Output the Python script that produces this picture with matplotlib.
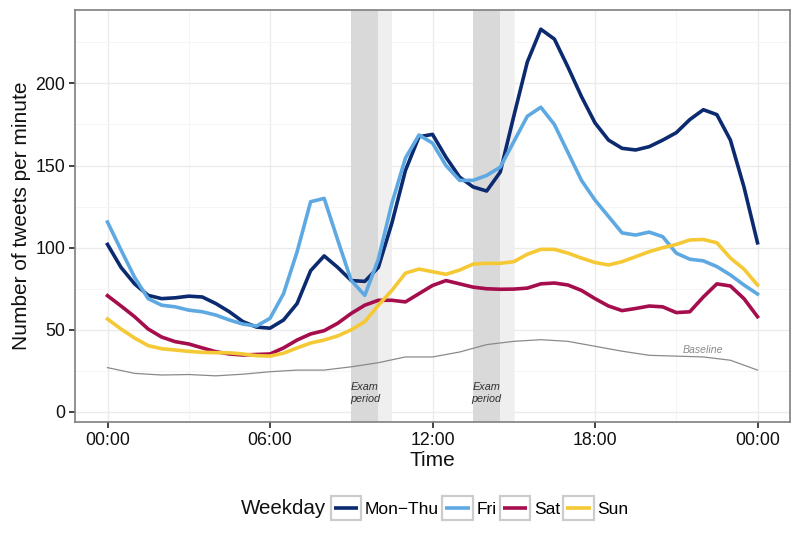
import matplotlib
matplotlib.use("Agg")
import matplotlib.pyplot as plt
import numpy as np
from matplotlib.legend_handler import HandlerBase
from matplotlib.patches import Rectangle
from matplotlib.lines import Line2D

plt.rcParams['font.family'] = ['Liberation Sans', 'DejaVu Sans']

# half-hour steps, 00:00 .. 24:00
hours = np.arange(0, 24.5, 0.5)

mon_thu = [102, 88, 78, 71, 69, 69.5, 70.5, 70, 66, 61, 55, 51.7, 51, 56, 66, 86,
           95, 88, 80, 79.5, 88, 115, 147, 167.5, 169, 155, 143, 137, 134.5, 146,
           180, 213, 233, 227, 210, 192, 176, 165.5, 160.5, 159.5, 161.5, 165.5,
           170, 178, 184, 181, 165.5, 137, 103]
fri = [115.6, 98.6, 82, 69, 65, 64, 62, 61, 59, 56, 53.5, 52.3, 57, 72, 97.5, 128,
       130, 104.7, 80, 71, 93, 127, 154.5, 168.6, 163.7, 150, 141, 141, 144, 149,
       164.5, 180, 185.5, 175, 158, 141, 129, 119, 109, 107.7, 109.5, 106.7,
       96.7, 93, 92, 88.5, 83.4, 77.3, 71.8]
sat = [70.8, 64.5, 58, 50.5, 45.6, 42.8, 41.4, 39, 36.7, 35.3, 34.7, 35, 35.3, 39,
       43.8, 47.5, 49.5, 54, 60, 65, 68, 68, 67, 72, 77, 80, 78, 76, 75, 74.7,
       74.8, 75.4, 78, 78.5, 77.3, 74, 69, 64.5, 61.7, 63, 64.5, 64, 60.5, 61,
       70, 78, 76.7, 69, 58]
sun = [56.6, 50.5, 45, 40.4, 38.5, 37.7, 36.9, 36.3, 36.1, 36, 35.3, 34.3, 34,
       35.8, 39, 42, 43.8, 46.3, 50, 55, 65, 74, 84.5, 87, 85.4, 83.8, 86.4, 90,
       90.5, 90.5, 91.5, 96, 99, 99, 96.7, 93.7, 91, 89.5, 91.5, 94.5, 97.6, 100,
       102, 104.7, 105, 103, 93.7, 87, 77.3]

# baseline, hourly
base_hours = np.arange(0, 25, 1)
baseline = [27, 23.5, 22.5, 22.8, 22, 23, 24.5, 25.5, 25.5, 27.5, 30, 33.5, 33.5,
            36.5, 41, 43, 44, 43, 40, 37, 34.5, 34, 33.5, 31.5, 25.5]

series_names = ['Mon\u2212Thu', 'Fri', 'Sat', 'Sun']
series_colors = ['#0b2a70', '#5fa9e2', '#a50d4c', '#f5c936']

# exam periods (start, end of dark part, end of light part)
exams = [(9.0, 10.0, 10.5), (13.5, 14.5, 15.0)]

xticks = [0, 6, 12, 18, 24]
xticklabels = ['00:00', '06:00', '12:00', '18:00', '00:00']
yticks = [0, 50, 100, 150, 200]


class KeyBox(HandlerBase):
    def create_artists(self, legend, orig, xd, yd, w, h, fs, trans):
        box = Rectangle((-xd, -yd), w, h, facecolor='white', edgecolor='#cccccc',
                        lw=1.6, transform=trans)
        ln = Line2D([-xd + 0.1 * w, -xd + 0.9 * w], [-yd + h / 2] * 2,
                    color=orig.get_color(), lw=orig.get_linewidth(),
                    solid_capstyle='butt', transform=trans)
        return [box, ln]


fig = plt.figure(figsize=(8, 5.54), dpi=100)
ax = fig.add_axes([75 / 800, 1 - 422 / 554, 715 / 800, 412 / 554])

for s, e_dark, e_light in exams:
    ax.axvspan(s, e_dark, color='#d9d9d9', lw=0, zorder=1)
    ax.axvspan(e_dark, e_light, color='#efefef', lw=0, zorder=1)
    ax.text((s + e_dark) / 2, 11.5, 'Exam\nperiod', ha='center', va='center',
            fontsize=7.8, style='italic', color='#333333', linespacing=1.3, zorder=3)

ax.plot(base_hours, baseline, color='#8a8a8a', lw=0.9, zorder=2)
ax.text(22, 37.5, 'Baseline', ha='center', va='center', fontsize=7.6,
        style='italic', color='#8a8a8a', zorder=3)

handles = []
for vals, name, col in zip([mon_thu, fri, sat, sun], series_names, series_colors):
    h, = ax.plot(hours, vals, color=col, lw=2.6, label=name, zorder=4,
                 solid_joinstyle='round')
    handles.append(h)

ax.set_xlim(-1.2, 25.2)
ax.set_ylim(-6.1, 244.7)
ax.set_xticks(xticks)
ax.set_xticklabels(xticklabels)
ax.set_yticks(yticks)
ax.set_xticks([3, 9, 15, 21], minor=True)
ax.set_yticks([25, 75, 125, 175, 225], minor=True)
ax.grid(which='major', color='#ebebeb', lw=1.0, zorder=0)
ax.grid(which='minor', color='#f5f5f5', lw=0.7, zorder=0)
ax.set_axisbelow(True)
ax.tick_params(which='major', length=4, width=1.3, color='#333333',
               labelsize=12.8, labelcolor='#111111', pad=3)
ax.tick_params(which='minor', length=0)
for sp in ax.spines.values():
    sp.set_color('#7f7f7f')
    sp.set_linewidth(1.2)

ax.set_xlabel('Time', fontsize=15, color='#111111')
ax.xaxis.set_label_coords(0.5, (422 - 460) / 412)
ax.xaxis.label.set_va('center')
ax.set_ylabel('Number of tweets per minute', fontsize=15, color='#111111')
ax.yaxis.set_label_coords((22 - 75) / 715, 0.5)
ax.yaxis.label.set_va('center')

fig.text(326 / 800, 1 - 509 / 554, 'Weekday', ha='right', va='center',
         fontsize=14.8, color='#111111')
fig.legend(handles, series_names, loc='center left',
           bbox_to_anchor=(331 / 800, 1 - 508 / 554), ncol=4, frameon=False,
           handlelength=1.75, handleheight=1.75, handletextpad=0.2,
           columnspacing=0.2, borderpad=0, borderaxespad=0, fontsize=12.5,
           handler_map={Line2D: KeyBox()})

fig.savefig('out.png', dpi=100)
